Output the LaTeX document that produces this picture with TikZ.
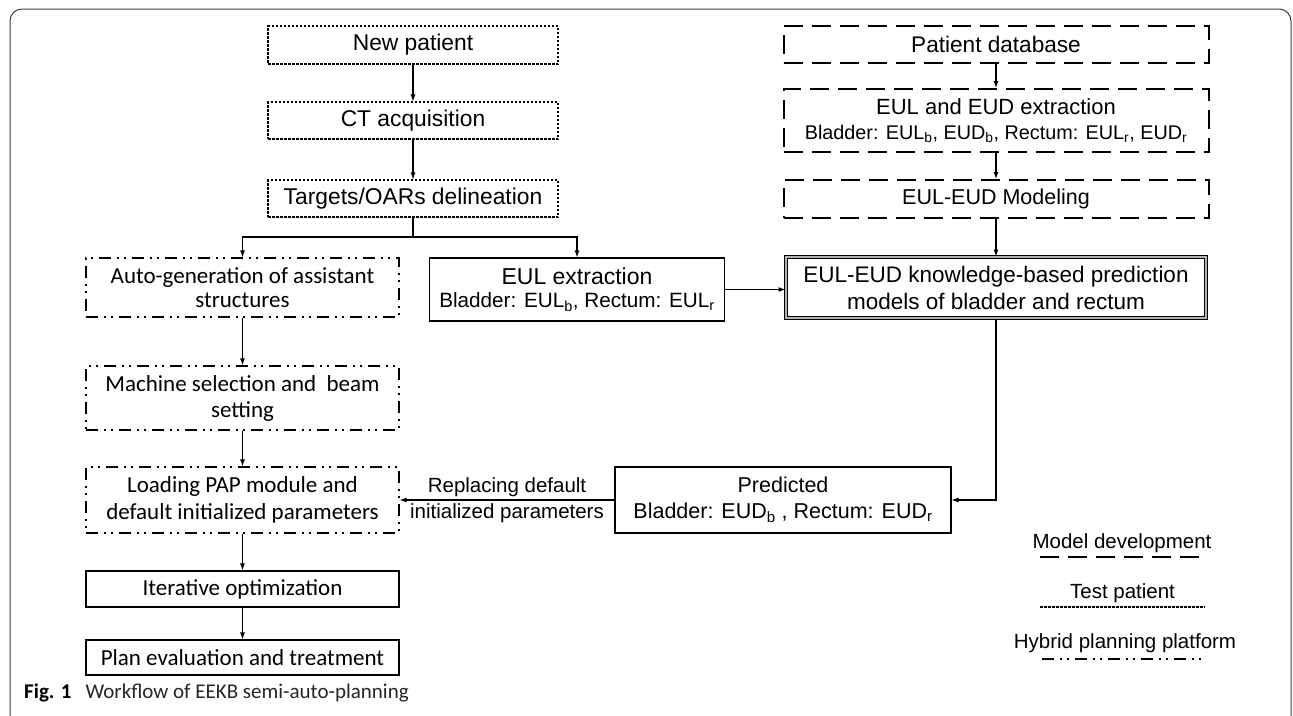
\documentclass[tikz,border=0pt]{standalone}
\usepackage{fontspec}
\setmainfont{Liberation Sans}
\newfontfamily\calfont{Carlito}
\usetikzlibrary{arrows.meta}
\newcommand{\sfsz}[2]{\fontsize{#1}{#2}\selectfont}

\begin{document}
\begin{tikzpicture}[x=1pt, y=-1pt, >={Latex[length=7pt,width=5pt]},
  base/.style={draw, line width=1.1pt, inner sep=0pt, align=center},
  moddash/.style={line width=2pt, dash pattern=on 19pt off 9pt},
  testdash/.style={line width=1.1pt, dash pattern=on 2.5pt off 1.5pt},
  hybdash/.style={line width=1.2pt, dash pattern=on 12pt off 6pt on 2pt off 5pt on 2pt off 6pt},
  modeldev/.style={base, moddash},
  testpat/.style={base, testdash},
  hybrid/.style={base, hybdash},
  plain/.style={base},
  know/.style={base, line width=1pt, double=black!30, double distance=2.5pt},
  link/.style={->, line width=1.1pt}]
  \useasboundingbox (0,0) rectangle (1293,715);
  \draw[black!75, line width=1pt, rounded corners=12pt] (10,724) -- (10,9) -- (1291,9) -- (1291,724);

  % new patient
  \node[testpat, minimum width=290pt, minimum height=38pt, font=\sfsz{22.8}{26}] (newpat) at (413,45) {New patient};
  \node[testpat, minimum width=290pt, minimum height=37pt, font=\sfsz{22.8}{26}] (ct) at (413,120.5) {CT acquisition};
  \node[testpat, minimum width=290pt, minimum height=37pt, font=\sfsz{22.8}{26}] (targets) at (413,198.5) {Targets/OARs delineation};
  \coordinate (split) at (413,237);

  % planning platform
  \node[hybrid, minimum width=313pt, minimum height=59pt, font=\calfont\sfsz{23}{24}] (autogen) at (242.5,287.5) {Auto-generation of assistant\\structures};
  \node[hybrid, minimum width=313pt, minimum height=64pt, font=\calfont\sfsz{23}{26}] (machine) at (242.5,398) {Machine selection and\ \ beam\\setting};
  \node[hybrid, minimum width=313pt, minimum height=66pt, font=\calfont\sfsz{23}{27}] (loading) at (242.5,500) {Loading PAP module and\\default initialized parameters};
  \node[plain, minimum width=313pt, minimum height=36pt, font=\calfont\sfsz{23}{26}] (iterate) at (242.5,589) {Iterative optimization};
  \node[plain, minimum width=313pt, minimum height=35pt, font=\calfont\sfsz{23}{26}] (plan) at (242.5,657.5) {Plan evaluation and treatment};

  \node[plain, minimum width=295pt, minimum height=63pt, font=\sfsz{20.7}{23.5}] (eulx) at (577,289.5) {{\sfsz{23}{23.5}EUL extraction}\\Bladder: EUL\textsubscript{b}, Rectum: EUL\textsubscript{r}};

  % model development
  \node[modeldev, minimum width=425pt, minimum height=37pt, font=\sfsz{22.6}{26}] (db) at (996,44.5) {Patient database};
  \node[modeldev, minimum width=425pt, minimum height=63pt, font=\sfsz{19.8}{24.5}] (euleud) at (996,120.5) {{\sfsz{22}{24.5}EUL and EUD extraction}\\Bladder: EUL\textsubscript{b}, EUD\textsubscript{b}, Rectum: EUL\textsubscript{r}, EUD\textsubscript{r}};
  \node[modeldev, minimum width=425pt, minimum height=38pt, font=\sfsz{21.5}{26}] (modeling) at (996,199) {EUL-EUD Modeling};
  \node[know, minimum width=420pt, minimum height=61pt, font=\sfsz{22.5}{27}] (kbp) at (996,287.5) {EUL-EUD knowledge-based prediction\\models of bladder and rectum};
  \node[plain, minimum width=336pt, minimum height=66pt, font=\sfsz{21.5}{26}] (pred) at (783,500) {Predicted\\Bladder: EUD\textsubscript{b} , Rectum: EUD\textsubscript{r}};

  \draw[link] (newpat) -- (ct);
  \draw[link] (ct) -- (targets);
  \draw[line width=1.1pt] (targets) -- (split);
  \draw[link] (split) -| (autogen);
  \draw[link] (split) -| (eulx);
  \draw[link] (autogen) -- (machine);
  \draw[link] (machine) -- (loading);
  \draw[link] (loading) -- (iterate);
  \draw[link] (iterate) -- (plan);
  \draw[link] (db) -- (euleud);
  \draw[link] (euleud) -- (modeling);
  \draw[link] (modeling) -- (kbp);
  \draw[link] (eulx) -- (eulx -| kbp.west);
  \draw[link] (kbp) |- (pred);
  \draw[link] (pred) -- (loading)
    node[midway, above, inner sep=3pt, font=\sfsz{20.5}{24}] {Replacing default}
    node[midway, below, inner sep=3pt, font=\sfsz{20.5}{24}] {initialized parameters};

  % legend
  \node[anchor=base, font=\sfsz{20.5}{24}] (lgmod) at (1122,548) {Model development};
  \draw[moddash] (1040,557) -- (1200,557);
  \node[anchor=base, font=\sfsz{20.5}{24}] (lgtest) at (1122.5,598) {Test patient};
  \draw[testdash] (1040,607) -- (1205,607);
  \node[anchor=base, font=\sfsz{20.5}{24}] (lghyb) at (1125,648) {Hybrid planning platform};
  \draw[hybdash] (1042,659) -- (1205,659);

  \node[anchor=base west, inner sep=0pt, font=\calfont\sfsz{21}{24}] (caption) at (24,698) {\textbf{Fig. 1}\hspace{14pt}{\color{black!85}Workflow of EEKB semi-auto-planning}};
\end{tikzpicture}
\end{document}
